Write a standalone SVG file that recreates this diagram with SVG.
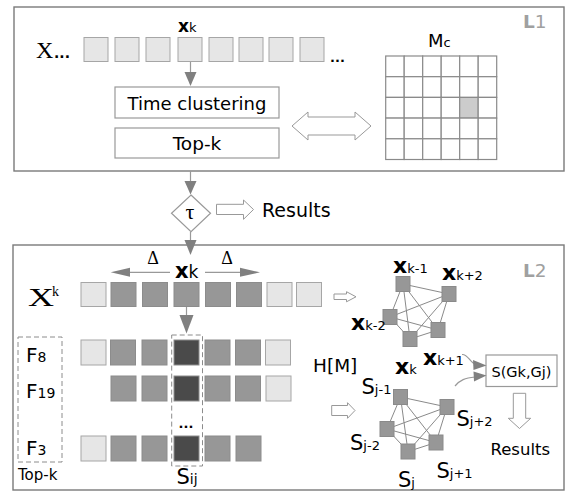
<svg xmlns="http://www.w3.org/2000/svg" width="575" height="494" viewBox="0 0 575 494">
<defs>
<style>
.frame{fill:#fff;stroke:#7a7a7a;stroke-width:1.4}
.box{fill:#fff;stroke:#999;stroke-width:1.2}
.lt{fill:#e6e6e6;stroke:#a6a6a6;stroke-width:1}
.md{fill:#979797;stroke:#8c8c8c;stroke-width:1}
.dk{fill:#4a4a4a;stroke:#8c8c8c;stroke-width:1}
.cell{fill:#fff;stroke:#8a8a8a;stroke-width:1.2}
.hl{fill:#cccccc;stroke:#8a8a8a;stroke-width:1.2}
.ln{stroke:#999;stroke-width:1.2;fill:none}
.head{fill:#808080;stroke:none}
.hollow{fill:#fff;stroke:#999;stroke-width:1}
.dash{fill:none;stroke:#8c8c8c;stroke-width:1;stroke-dasharray:5,3}
.edge{stroke:#8a8a8a;stroke-width:1;fill:none}
.gn{fill:#979797;stroke:#8a8a8a;stroke-width:1}
.t{font-family:"DejaVu Sans",Verdana,sans-serif;fill:#000}
.serif{font-family:"Liberation Serif","Times New Roman",serif;fill:#000}
.lbl{font-family:"DejaVu Sans",Verdana,sans-serif;fill:#a0a0a0}
</style>
</defs>

<g id="L1">
<rect class="frame" x="14" y="7" width="550" height="164"/>
<text class="lbl" x="523" y="28" font-size="18.5"><tspan font-weight="bold">L</tspan>1</text>
</g>

<g id="seq-L1">
<text class="serif" x="36" y="58" font-size="24">X</text>
<text class="t" x="54" y="58" font-size="14" font-weight="bold">...</text>
<rect class="lt" x="84" y="37.5" width="24" height="24"/>
<rect class="lt" x="115" y="37.5" width="24" height="24"/>
<rect class="lt" x="146" y="37.5" width="24" height="24"/>
<rect class="lt" x="178" y="37.5" width="24" height="24"/>
<rect class="lt" x="209" y="37.5" width="24" height="24"/>
<rect class="lt" x="239" y="37.5" width="24" height="24"/>
<rect class="lt" x="269" y="37.5" width="24" height="24"/>
<rect class="lt" x="300" y="37.5" width="24" height="24"/>
<text class="t" x="330" y="62" font-size="13" font-weight="bold">...</text>
<text class="t" x="178" y="32"><tspan font-size="17" font-weight="bold">x</tspan><tspan font-size="13">k</tspan></text>
</g>

<g id="time-clustering">
<rect class="box" x="115" y="87" width="164" height="31"/>
<text class="t" x="197" y="110" font-size="18" text-anchor="middle">Time clustering</text>
</g>

<g id="topk-L1">
<rect class="box" x="115" y="128" width="164" height="30"/>
<text class="t" x="197" y="150" font-size="18.5" text-anchor="middle">Top-k</text>
</g>

<g id="Mc">
<text class="t" x="428" y="47"><tspan font-size="18">M</tspan><tspan font-size="13">c</tspan></text>
<g>
<rect class="cell" x="385.7" y="56" width="18.5" height="20.7"/><rect class="cell" x="404.2" y="56" width="18.5" height="20.7"/><rect class="cell" x="422.7" y="56" width="18.5" height="20.7"/><rect class="cell" x="441.2" y="56" width="18.5" height="20.7"/><rect class="cell" x="459.7" y="56" width="18.5" height="20.7"/><rect class="cell" x="478.2" y="56" width="18.5" height="20.7"/>
<rect class="cell" x="385.7" y="76.7" width="18.5" height="20.7"/><rect class="cell" x="404.2" y="76.7" width="18.5" height="20.7"/><rect class="cell" x="422.7" y="76.7" width="18.5" height="20.7"/><rect class="cell" x="441.2" y="76.7" width="18.5" height="20.7"/><rect class="cell" x="459.7" y="76.7" width="18.5" height="20.7"/><rect class="cell" x="478.2" y="76.7" width="18.5" height="20.7"/>
<rect class="cell" x="385.7" y="97.4" width="18.5" height="20.7"/><rect class="cell" x="404.2" y="97.4" width="18.5" height="20.7"/><rect class="cell" x="422.7" y="97.4" width="18.5" height="20.7"/><rect class="cell" x="441.2" y="97.4" width="18.5" height="20.7"/><rect class="hl" x="459.7" y="97.4" width="18.5" height="20.7"/><rect class="cell" x="478.2" y="97.4" width="18.5" height="20.7"/>
<rect class="cell" x="385.7" y="118.1" width="18.5" height="20.7"/><rect class="cell" x="404.2" y="118.1" width="18.5" height="20.7"/><rect class="cell" x="422.7" y="118.1" width="18.5" height="20.7"/><rect class="cell" x="441.2" y="118.1" width="18.5" height="20.7"/><rect class="cell" x="459.7" y="118.1" width="18.5" height="20.7"/><rect class="cell" x="478.2" y="118.1" width="18.5" height="20.7"/>
<rect class="cell" x="385.7" y="138.8" width="18.5" height="20.7"/><rect class="cell" x="404.2" y="138.8" width="18.5" height="20.7"/><rect class="cell" x="422.7" y="138.8" width="18.5" height="20.7"/><rect class="cell" x="441.2" y="138.8" width="18.5" height="20.7"/><rect class="cell" x="459.7" y="138.8" width="18.5" height="20.7"/><rect class="cell" x="478.2" y="138.8" width="18.5" height="20.7"/>
</g>
</g>

<g id="tau">
<polygon class="box" points="191,195 210.5,213.3 191,231.7 171.5,213.3"/>
<text class="serif" x="190" y="219" font-size="22" text-anchor="middle">τ</text>
</g>

<g id="results1">
<text class="t" x="262" y="217" font-size="19">Results</text>
</g>

<g id="L2">
<rect class="frame" x="13" y="245" width="551" height="245"/>
<text class="lbl" x="523" y="277" font-size="18.5"><tspan font-weight="bold">L</tspan>2</text>
</g>

<g id="row-Xk">
<text class="serif" x="28" y="306" font-size="26" textLength="26" lengthAdjust="spacingAndGlyphs">X</text>
<text class="serif" x="52" y="296" font-size="14">k</text>
<rect class="lt" x="81" y="282.5" width="25" height="24"/>
<rect class="md" x="111" y="282.5" width="25" height="24"/>
<rect class="md" x="142.5" y="282.5" width="25" height="24"/>
<rect class="md" x="174" y="282.5" width="25" height="24"/>
<rect class="md" x="205.5" y="282.5" width="25" height="24"/>
<rect class="md" x="236.5" y="282.5" width="25" height="24"/>
<rect class="lt" x="267" y="282.5" width="25" height="24"/>
<rect class="lt" x="296.5" y="282.5" width="25" height="24"/>
<text class="t" x="175" y="278"><tspan font-size="21" font-weight="bold">x</tspan><tspan font-size="17">k</tspan></text>
<text class="serif" x="153" y="264" font-size="18" text-anchor="middle">Δ</text>
<text class="serif" x="227" y="264" font-size="18" text-anchor="middle">Δ</text>
</g>

<g id="row-F8">
<rect class="lt" x="81" y="340" width="25" height="25"/>
<rect class="md" x="110.5" y="340" width="25" height="25"/>
<rect class="md" x="142" y="340" width="25" height="25"/>
<rect class="dk" x="174" y="340" width="25" height="25"/>
<rect class="md" x="205" y="340" width="25" height="25"/>
<rect class="md" x="235.5" y="340" width="25" height="25"/>
<rect class="lt" x="265.5" y="340" width="25" height="25"/>
</g>

<g id="row-F19">
<rect class="md" x="111" y="376" width="25" height="25"/>
<rect class="md" x="142" y="376" width="25" height="25"/>
<rect class="dk" x="174" y="376" width="25" height="25"/>
<rect class="md" x="205" y="376" width="25" height="25"/>
<rect class="md" x="235.5" y="376" width="25" height="25"/>
<rect class="lt" x="266" y="376" width="25" height="25"/>
</g>

<g id="row-F3">
<rect class="lt" x="81" y="436" width="25" height="25"/>
<rect class="md" x="111" y="436" width="25" height="25"/>
<rect class="md" x="142" y="436" width="25" height="25"/>
<rect class="dk" x="174" y="436" width="25" height="25"/>
<rect class="md" x="205" y="436" width="25" height="25"/>
<rect class="md" x="236" y="436" width="25" height="25"/>
<text class="t" x="186" y="428" font-size="13" font-weight="bold" text-anchor="middle">...</text>
</g>

<g id="Sij">
<rect class="dash" x="171.7" y="335" width="30.8" height="131"/>
<text class="t" x="176.5" y="484"><tspan font-size="21">S</tspan><tspan font-size="14">ij</tspan></text>
</g>

<g id="topk-L2">
<rect class="dash" x="18" y="337" width="44" height="125"/>
<text class="t" x="26" y="362"><tspan font-size="20">F</tspan><tspan font-size="14">8</tspan></text>
<text class="t" x="26" y="398"><tspan font-size="20">F</tspan><tspan font-size="14">19</tspan></text>
<text class="t" x="26" y="455"><tspan font-size="20">F</tspan><tspan font-size="14">3</tspan></text>
<text class="t" x="18" y="480" font-size="15">Top-k</text>
</g>

<g id="HM">
<text class="t" x="313" y="372" font-size="18.5">H[M]</text>
</g>

<g id="graph-x">
<g class="edges">
<line class="edge" x1="403" y1="284" x2="449" y2="294"/>
<line class="edge" x1="403" y1="284" x2="390" y2="317"/>
<line class="edge" x1="403" y1="284" x2="438" y2="330"/>
<line class="edge" x1="403" y1="284" x2="410" y2="339"/>
<line class="edge" x1="449" y1="294" x2="390" y2="317"/>
<line class="edge" x1="449" y1="294" x2="438" y2="330"/>
<line class="edge" x1="449" y1="294" x2="410" y2="339"/>
<line class="edge" x1="390" y1="317" x2="438" y2="330"/>
<line class="edge" x1="390" y1="317" x2="410" y2="339"/>
<line class="edge" x1="438" y1="330" x2="410" y2="339"/>
</g>
<rect class="gn" x="396" y="276.5" width="14" height="15"/>
<rect class="gn" x="442" y="286.5" width="14" height="15"/>
<rect class="gn" x="383" y="309.5" width="14" height="15"/>
<rect class="gn" x="431" y="322.5" width="14" height="15"/>
<rect class="gn" x="403" y="331.5" width="14" height="15"/>
<text class="t" x="393" y="272.5"><tspan font-size="22" font-weight="bold">x</tspan><tspan font-size="13">k-1</tspan></text>
<text class="t" x="442" y="279.5"><tspan font-size="22" font-weight="bold">x</tspan><tspan font-size="13">k+2</tspan></text>
<text class="t" x="351" y="330"><tspan font-size="22" font-weight="bold">x</tspan><tspan font-size="13">k-2</tspan></text>
<text class="t" x="395" y="373.5"><tspan font-size="22" font-weight="bold">x</tspan><tspan font-size="13">k</tspan></text>
<text class="t" x="423" y="365"><tspan font-size="22" font-weight="bold">x</tspan><tspan font-size="13">k+1</tspan></text>
</g>

<g id="graph-s">
<g class="edges">
<line class="edge" x1="400.5" y1="397" x2="447" y2="407"/>
<line class="edge" x1="400.5" y1="397" x2="387" y2="429"/>
<line class="edge" x1="400.5" y1="397" x2="436" y2="442.5"/>
<line class="edge" x1="400.5" y1="397" x2="408" y2="451.5"/>
<line class="edge" x1="447" y1="407" x2="387" y2="429"/>
<line class="edge" x1="447" y1="407" x2="436" y2="442.5"/>
<line class="edge" x1="447" y1="407" x2="408" y2="451.5"/>
<line class="edge" x1="387" y1="429" x2="436" y2="442.5"/>
<line class="edge" x1="387" y1="429" x2="408" y2="451.5"/>
<line class="edge" x1="436" y1="442.5" x2="408" y2="451.5"/>
</g>
<rect class="gn" x="393.5" y="389.5" width="14" height="15"/>
<rect class="gn" x="440" y="399.5" width="14" height="15"/>
<rect class="gn" x="380" y="421.5" width="14" height="15"/>
<rect class="gn" x="429" y="435" width="14" height="15"/>
<rect class="gn" x="401" y="444" width="14" height="15"/>
<text class="t" x="361.5" y="393.5"><tspan font-size="21">S</tspan><tspan font-size="13">j-1</tspan></text>
<text class="t" x="456.5" y="426"><tspan font-size="21">S</tspan><tspan font-size="13">j+2</tspan></text>
<text class="t" x="350" y="449.5"><tspan font-size="21">S</tspan><tspan font-size="13">j-2</tspan></text>
<text class="t" x="436.5" y="477.5"><tspan font-size="21">S</tspan><tspan font-size="13">j+1</tspan></text>
<text class="t" x="398" y="487"><tspan font-size="21">S</tspan><tspan font-size="13">j</tspan></text>
</g>

<g id="S-GkGj">
<rect class="box" x="486" y="355" width="71" height="31.5"/>
<text class="t" x="521.5" y="376.5" font-size="14.5" text-anchor="middle">S(Gk,Gj)</text>
</g>

<g id="results2">
<text class="t" x="490.5" y="455" font-size="16.5">Results</text>
</g>

<g id="connectors">
<line class="ln" x1="190.5" y1="62" x2="190.5" y2="73"/>
<polygon class="head" points="184.5,72 196.5,72 190.5,86"/>
<path class="hollow" d="M292,126 L308,112 L308,117 L355,117 L355,112 L371,126 L355,140 L355,135 L308,135 L308,140 Z"/>
<line class="ln" x1="190.5" y1="171" x2="190.5" y2="182"/>
<polygon class="head" points="184.5,181 196.5,181 190.5,194.5"/>
<path class="hollow" d="M216.5,204.3 L243.5,204.3 L243.5,200 L253.5,209.5 L243.5,219.3 L243.5,214.5 L216.5,214.5 Z"/>
<line class="ln" x1="190.5" y1="232" x2="190.5" y2="241"/>
<polygon class="head" points="184.5,240 196.5,240 190.5,255"/>
<line class="ln" x1="170" y1="272.3" x2="128" y2="272.3"/>
<polygon class="head" points="110.7,272.3 130,267.8 130,276.8"/>
<line class="ln" x1="205" y1="272.3" x2="242" y2="272.3"/>
<polygon class="head" points="260,272.3 240,267.8 240,276.8"/>
<line class="ln" x1="186.5" y1="307" x2="186.5" y2="316"/>
<polygon class="head" points="179.5,315 193.5,315 186.5,333.5"/>
<path class="hollow" d="M334,294 L346.5,294 L346.5,291.7 L356,296.8 L346.5,301.8 L346.5,299.5 L334,299.5 Z"/>
<path class="hollow" d="M331.7,405.5 L347.5,405.5 L347.5,402.7 L355,410.5 L347.5,418.3 L347.5,415.5 L331.7,415.5 Z"/>
<path class="ln" d="M462,354.5 C468,354 470,362.5 475,364"/>
<polygon class="head" points="486.5,365.5 473,360 473.5,370"/>
<path class="ln" d="M455,386 C460,380 465,378 475,377"/>
<polygon class="head" points="486.5,375.5 473.5,371.5 474,381.5"/>
<path class="hollow" d="M513.3,393.3 L525.7,393.3 L525.7,418.3 L530.7,418.3 L519.5,428.5 L508.3,418.3 L513.3,418.3 Z"/>
</g>
</svg>
